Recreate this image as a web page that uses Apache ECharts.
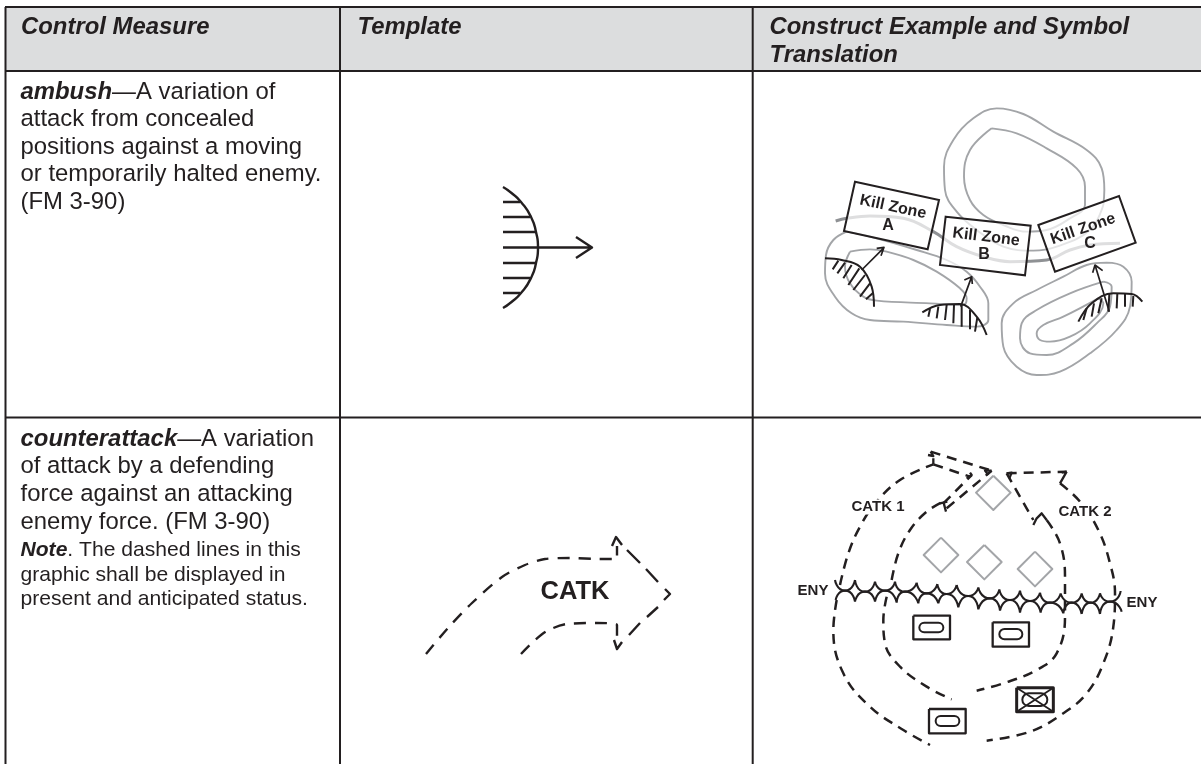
<!DOCTYPE html>
<html><head><meta charset="utf-8">
<style>html,body{margin:0;padding:0;background:#fff}#c{width:1201px;height:764px}</style>
<script src="https://cdn.jsdelivr.net/npm/echarts@6/dist/echarts.min.js"></script>
</head><body><div id="c"></div>
<script>
// ---- Text ----
const headerLabels = [['Control Measure',20.5,27],['Template',357,27],['Construct Example and Symbol',769,27],['Translation',769,55]];
const ambushLines = [['{bi|ambush}{r|—A variation of}',20,92],['{r|attack from concealed}',20,119.5],['{r|positions against a moving}',20,147],['{r|or temporarily halted enemy.}',20,174.5],['{r|(FM 3-90)}',20,202]];
const counterLines = [['{bi|counterattack}{r|—A variation}',20,439],['{r|of attack by a defending}',20,466],['{r|force against an attacking}',20,494],['{r|enemy force. (FM 3-90)}',20,522],['{nbi|Note}{n|. The dashed lines in this}',20,550],['{n|graphic shall be displayed in}',20,575],['{n|present and anticipated status.}',20,599.5]];
const plainLabels = [['CATK',575,592,25.5,0],['ENY',813,591,15,0],['ENY',1142,603,15,0]];
const catkExampleLabels = [['CATK 1',878,507,15,0],['CATK 2',1085,512,15,0]];
const killZoneLabels = [['Kill Zone',893,207,16,-12],['A',888,226,16,0],['Kill Zone',986,237,16,-7],['B',984,255,16,0],['Kill Zone',1083,229,16,19],['C',1090,244,16,0]];

// ---- Table rules ----
const tableRules = [[[5,7],[1201,7]],[[5,71],[1201,71]],[[5,417.5],[1201,417.5]],[[5.5,7],[5.5,764]],[[340,7],[340,764]],[[752.7,7],[752.7,764]]];
const headerBand = [[5,7],[1201,7],[1201,71],[5,71]];

// ---- Template: ambush ----
const tplAmbushArc = [[503,187],[511.5,193],[521,202],[531,217],[536,232],[538,247.5],[536,263],[531,278],[521,293],[511.5,302],[503,308]];
const tplAmbushHatch = [[[503,202],[520,202]],[[503,217],[530,217]],[[503,232],[536,232]],[[503,247.5],[538,247.5]],[[503,263],[536,263]],[[503,278],[530,278]],[[503,293],[520,293]]];
const tplAmbushArrow = [[[538,247.5],[592,247.5]],[[576,237],[592,247.5],[576,258]]];

// ---- Template: counterattack ----
const tplCatkOuter = [[426,654],[448,628],[472,603],[502,577],[525,565],[545,559],[570,558],[600,559],[617,559],[617,546]];
const tplCatkInner = [[521,654],[533,642],[547,631],[567,624],[597,623],[617,625],[617,642]];
const tplCatkFront = [[[627,550],[640,563]],[[646,569],[658,582]],[[658,607],[647,617]],[[640,623],[629,635]]];
const tplCatkHeads = [[[612,546],[616,537],[622,545]],[[665,589],[670,594],[664,600]],[[614,640],[617,649],[622,642]]];

// ---- Ambush example (contours, road, boxes, hatching) ----
const hillTopOuter = [[1000,345],[1003,300],[995,235],[950,180],[850,125],[760,72],[680,55],[610,85],[550,150],[522,230],[525,300],[560,365],[620,420],[700,470],[790,482],[860,470],[960,420],[1000,345]];
const hillTopInner = [[665,115],[740,130],[830,175],[920,235],[945,290],[945,345],[900,385],[830,420],[770,425],[700,405],[640,375],[600,330],[582,260],[600,180],[665,115]];
const hillLeftOuter = [[230,425],[190,450],[168,495],[165,550],[195,620],[245,670],[300,690],[400,695],[530,705],[620,710],[655,690],[655,640],[630,590],[590,545],[530,510],[440,480],[300,440],[230,425]];
const hillLeftInner = [[240,485],[300,478],[350,485],[430,510],[500,545],[570,595],[590,625],[580,645],[480,640],[320,632],[280,620],[240,580],[225,530],[240,485]];
const hillRightOuter = [[1010,518],[1060,530],[1085,575],[1080,650],[1040,720],[960,790],[870,845],[800,855],[740,830],[700,770],[695,700],[730,640],[800,600],[880,560],[950,525],[1010,518]];
const hillRightMid = [[1000,575],[1025,590],[1020,650],[980,700],[910,760],[830,795],[780,790],[750,745],[755,700],[800,660],[900,610],[1000,575]];
const hillRightInner = [[985,625],[1000,640],[960,700],[900,740],[840,755],[810,750],[800,730],[820,705],[880,680],[985,625]];
const road = [[197,393],[230,385],[300,378],[400,385],[490,425],[560,470],[640,500],[720,515],[830,510],[900,480],[960,465],[1050,460]];
const killBoxes = [[[255,275],[507,330],[473,478],[222,423]],[[527,380],[782,407],[765,556],[510,525]],[[805,405],[1047,318],[1097,458],[855,545]]];
const ambushArcs = [[[165,505],[215,510],[270,530],[305,590],[312,650]],[[457,667],[510,645],[570,642],[620,680],[650,735]],[[925,695],[965,640],[1030,610],[1085,612],[1117,635]]];
const ambushHatch = [[[205,512],[188,538]],[[225,518],[202,550]],[[245,525],[220,565]],[[268,535],[235,585]],[[285,555],[250,600]],[[300,580],[270,620]],[[308,610],[288,628]],
 [[480,657],[475,680]],[[505,650],[500,685]],[[530,645],[525,690]],[[552,645],[550,700]],[[575,645],[575,710]],[[600,660],[600,718]],[[622,682],[615,725]],
 [[950,655],[940,690]],[[972,640],[965,680]],[[995,625],[985,670]],[[1018,612],[1015,665]],[[1042,610],[1040,655]],[[1065,612],[1065,650]],[[1090,618],[1088,650]]];
const ambushArrows = [[[275,540],[340,475]],[[320,475],[342,472],[333,497]],[[572,650],[605,560]],[[583,570],[605,560],[607,582]],[[1018,665],[975,525]],[[968,548],[975,525],[998,542]]];

// ---- Counterattack example ----
const catk1Outer = [[210,465],[235,370],[270,290],[320,215],[390,150],[490,103]];
const catk1Lower = [[200,510],[190,600],[220,730],[300,830],[400,900],[480,945]];
const catk1Inner = [[365,450],[385,370],[420,300],[470,245],[515,217]];
const catk1InnerLower = [[350,500],[340,570],[345,640],[390,710],[470,770],[545,808]];
const catk1Tops = [[[482,65],[665,122]],[[490,103],[600,140]],[[530,235],[665,122]],[[520,220],[605,135]]];
const catk2Outer = [[870,160],[930,215],[985,300],[1020,400],[1035,490],[1030,590],[1000,700],[950,790],[880,850],[780,905],[650,932]];
const catk2Inner = [[830,270],[870,340],[885,440],[885,560],[860,670],[800,720],[700,760],[620,782]];
const catk2Tops = [[[710,130],[890,125]],[[710,130],[790,270]]];
const catkSolid = [[[490,85],[490,103]],[[482,65],[490,78],[474,75]],[[600,128],[605,135],[590,145]],[[665,122],[645,122],[655,135]],[[510,220],[532,215]],[[520,215],[528,245]],[[890,125],[870,160]],[[710,130],[725,128],[718,145]],[[790,285],[800,265],[815,250],[830,270]],[[890,125],[875,128]]];
const diamonds = [[[670,137],[722,188],[670,240],[618,188],[670,137]],[[513,323],[565,375],[513,427],[461,375],[513,323]],[[643,345],[695,396],[643,448],[591,396],[643,345]],[[795,365],[847,417],[795,469],[743,417],[795,365]]];
const obstacleBoxes = [[[430,557],[540,557],[540,628],[430,628]],[[668,577],[777,577],[777,650],[668,650]],[[477,837],[587,837],[587,910],[477,910]],[[740,773],[850,773],[850,845],[740,845]]];
const obstaclePills = [[448,578,520,607],[688,597,757,628],[497,858,568,888],[757,790,832,828]];
const obstacleCross = [[[740,773],[850,845]],[[850,773],[740,845]]];
const upperChain = [[195,450],[225,482],[255,450],[285,485],[315,455],[345,482],[375,455],[405,485],[440,458],[470,490],[502,462],[530,492],[560,465],[595,498],[625,472],[660,505],[688,478],[720,510],[750,482],[780,513],[810,488],[840,518],[872,490],[905,518],[935,490],[962,518],[990,490],[1020,515],[1052,483]];
const lowerChain = [[197,510],[225,482],[255,515],[285,485],[315,515],[345,482],[380,518],[405,485],[445,520],[470,490],[505,520],[530,492],[565,532],[595,498],[625,538],[660,505],[690,542],[720,510],[750,548],[780,513],[812,548],[840,518],[880,550],[905,518],[935,552],[962,518],[990,552],[1020,515],[1055,545]];

// ---- Helpers ----
const INK = '#231f20', GREY = '#a3a5a8';
const zoomA = p => [770 + p[0] / 3, 90 + p[1] / 3];
const zoomB = p => [770 + p[0] / 3, 430 + p[1] / 3];
const GAP = [NaN, NaN];
const joined = (list, f) => list.flatMap((seg, i) => (i ? [GAP] : []).concat(f ? seg.map(f) : seg));
const arcs = (chain, f) => { const o = []; for (let i = 0; i + 2 < chain.length; i += 2) { if (i) o.push(GAP); o.push(f(chain[i]), f(chain[i+1]), f(chain[i+2])); } return o; };
const line = (data, color, width, opt) => Object.assign({ type:'line', data, symbol:'none', silent:true, clip:false, animation:false, z:3,
  connectNulls:false, lineStyle:Object.assign({ color, width, cap:'butt', join:'round' }, (opt||{}).ls||{}) }, opt||{}, { ls:undefined });
const polygons = (polys, fill, stroke, width, z) => ({ type:'custom', silent:true, clip:false, animation:false, z,
  coordinateSystem:'cartesian2d', encode:{x:0,y:1}, data:polys.map((p,i)=>[p[0][0],p[0][1],i]),
  renderItem:(params, api) => ({ type:'polygon', shape:{ points:polys[api.value(2)].map(q=>api.coord(q)) }, style:{ fill, stroke, lineWidth:width } }) });
const pills = (list, z) => ({ type:'custom', silent:true, clip:false, animation:false, z,
  coordinateSystem:'cartesian2d', encode:{x:0,y:1}, data:list.map(p=>p.slice()),
  renderItem:(params, api) => { const a=api.coord([api.value(0),api.value(1)]), b=api.coord([api.value(2),api.value(3)]);
    return { type:'rect', shape:{ x:a[0], y:a[1], width:b[0]-a[0], height:b[1]-a[1], r:(b[1]-a[1])/2 }, style:{ fill:'none', stroke:INK, lineWidth:2 } }; } });
const FONT = '"Liberation Sans", Arial, sans-serif';
const textRows = (rows, rich, fontSize, fontWeight, fontStyle) => ({ type:'scatter', silent:true, clip:false, animation:false, z:8, symbolSize:1,
  itemStyle:{ color:'rgba(0,0,0,0)', opacity:1 }, data:rows.map(r=>({ name:r[0], value:[r[1],r[2]] })),
  label:{ show:true, position:'right', distance:0, formatter:'{b}', color:INK, fontFamily:FONT, fontSize, fontWeight, fontStyle, rich } });
const centered = (rows, backgroundColor) => ({ type:'scatter', silent:true, clip:false, animation:false, z:8, symbolSize:1,
  itemStyle:{ color:'rgba(0,0,0,0)', opacity:1 }, data:rows.map(r=>({ name:r[0], value:[r[1],r[2]],
    label:{ show:true, position:'inside', formatter:'{b}', color:INK, fontFamily:FONT, fontWeight:'bold', fontSize:r[3], rotate:r[4], backgroundColor:backgroundColor||'transparent' } })) });

const bodyRich = { r:{ fontFamily:FONT, fontSize:23.9, color:INK }, bi:{ fontFamily:FONT, fontSize:23.9, fontWeight:'bold', fontStyle:'italic', color:INK },
  n:{ fontFamily:FONT, fontSize:21.1, color:INK }, nbi:{ fontFamily:FONT, fontSize:21.1, fontWeight:'bold', fontStyle:'italic', color:INK } };

const series = [
  polygons([headerBand], '#dcddde', 'none', 0, 1),
  line(joined(tableRules), INK, 2, { z:2 }),
  line(joined(obstacleBoxes.map(b=>b.concat([b[0]])).slice(0,3), zoomB), INK, 2.3),
  line(obstacleBoxes[3].concat([obstacleBoxes[3][0]]).map(zoomB), INK, 3),
  // template: ambush
  line(tplAmbushArc, INK, 2.4, { smooth:0.6 }),
  line(joined(tplAmbushHatch), INK, 2.4),
  line(joined(tplAmbushArrow), INK, 2.4),
  // template: counterattack
  line(tplCatkOuter, INK, 2.4, { smooth:0.3, ls:{ type:[12,9] } }),
  line(tplCatkInner, INK, 2.4, { smooth:0.3, ls:{ type:[12,9] } }),
  line(joined(tplCatkFront), INK, 2.4),
  line(joined(tplCatkHeads), INK, 2.4),
  // ambush example
  ...[hillTopOuter,hillTopInner,hillLeftOuter,hillLeftInner,hillRightOuter,hillRightMid,hillRightInner].map(h=>line(h.map(zoomA), GREY, 1.9, { smooth:0.4, z:3 })),
  line(road.map(zoomA), '#8f9194', 3, { smooth:0.4, z:3 }),
  polygons(killBoxes.map(b=>b.map(zoomA)), 'rgba(255,255,255,0.7)', INK, 2, 4),
  ...ambushArcs.map(a=>line(a.map(zoomA), INK, 2, { smooth:0.4, z:5 })),
  line(joined(ambushHatch, zoomA), INK, 2, { z:5 }),
  line(joined(ambushArrows, zoomA), INK, 1.7, { z:5 }),
  // counterattack example
  ...[catk1Outer,catk1Lower,catk1Inner,catk1InnerLower,catk2Outer,catk2Inner].map(c=>line(c.map(zoomB), INK, 2.5, { smooth:0.4, ls:{ type:[10,7] } })),
  line(joined(catk1Tops, zoomB), INK, 2.5, { ls:{ type:[10,7] } }),
  line(joined(catk2Tops, zoomB), INK, 2.5, { ls:{ type:[10,7] } }),
  line(joined(catkSolid, zoomB), INK, 2.3),
  line(joined(diamonds, zoomB), GREY, 2),
  pills(obstaclePills.map(p=>[770+p[0]/3,430+p[1]/3,770+p[2]/3,430+p[3]/3]), 5),
  line(joined(obstacleCross, zoomB), INK, 1.8),
  line(arcs(upperChain, zoomB), INK, 2.1, { smooth:0.85 }),
  line(arcs(lowerChain, zoomB), INK, 2.1, { smooth:0.85 }),
  // text
  textRows(headerLabels, {}, 23.9, 'bold', 'italic'),
  textRows(ambushLines, bodyRich, 23.9),
  textRows(counterLines, bodyRich, 23.9),
  centered(plainLabels),
  centered(catkExampleLabels, '#ffffff'),
  centered(killZoneLabels)
];

const chart = echarts.init(document.getElementById('c'), null, { renderer:'canvas', width:1201, height:764 });
chart.setOption({
  animation:false, backgroundColor:'#ffffff',
  grid:{ left:0, right:0, top:0, bottom:0 },
  xAxis:{ type:'value', min:0, max:1201, show:false },
  yAxis:{ type:'value', min:0, max:764, inverse:true, show:false },
  series
});
</script></body></html>
